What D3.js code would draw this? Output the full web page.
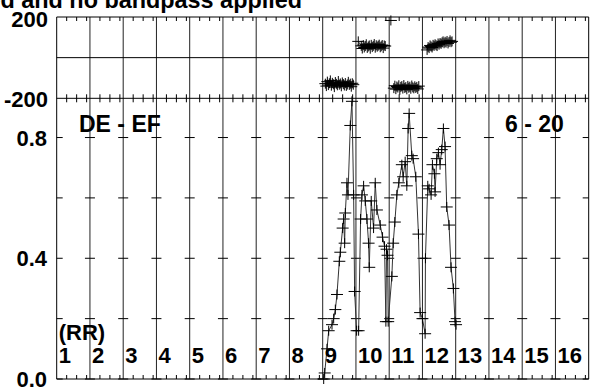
<!DOCTYPE html>
<html><head><meta charset="utf-8">
<script src="https://cdn.jsdelivr.net/npm/d3@7"></script>
<style>body{margin:0;background:#fff;overflow:hidden}text{font-family:"Liberation Sans",Arial,sans-serif;font-weight:bold;font-size:22px;fill:#000}</style>
</head><body>
<script>
// ---- data ----
const titleText = "Baseline wander removed and no bandpass applied";
const colLabels = ["1","2","3","4","5","6","7","8","9","10","11","12","13","14","15","16"];
const topTickVals = [200, -200];
const botTickLabelVals = [0.8, 0.4, 0.0];
const botGridVals = [0.0, 0.2, 0.4, 0.6, 0.8];
const leadLabel = "DE - EF";
const rangeLabel = "6 - 20";
const unitLabel = "(RR)";

// top panel clusters (time in RR units, value)
const top1T = [8.08,8.11,8.14,8.17,8.20,8.23,8.26,8.29,8.32,8.35,8.38,8.41,8.44,8.47,8.50,8.53,8.56,8.59,8.62,8.65,8.68,8.71,8.74,8.77,8.80,8.83,8.86,8.89,8.92];
const top1V = [-128,-140,-118,-135,-126,-112,-138,-124,-131,-145,-120,-129,-136,-115,-133,-127,-141,-122,-130,-137,-125,-139,-132,-119,-134,-128,-143,-126,-133];
const top2T = [9.07,9.16,9.19,9.22,9.25,9.28,9.31,9.34,9.37,9.40,9.43,9.46,9.49,9.52,9.55,9.58,9.61,9.64,9.67,9.70,9.73,9.76,9.79,9.82,9.85,9.88];
const top2V = [80,58,45,62,50,57,66,48,55,60,44,63,52,58,67,49,61,54,59,64,51,56,62,47,60,57];
const top3T = [10.05];
const top3V = [183];
const top4T = [10.14,10.17,10.20,10.23,10.26,10.29,10.32,10.35,10.38,10.41,10.44,10.47,10.50,10.53,10.56,10.59,10.62,10.65,10.68,10.71,10.74,10.77,10.80,10.83,10.86,10.89];
const top4V = [-150,-138,-155,-142,-147,-136,-158,-144,-140,-152,-135,-149,-145,-156,-139,-148,-143,-153,-137,-146,-151,-141,-149,-144,-154,-140];
const top5T = [11.14,11.17,11.20,11.23,11.26,11.29,11.32,11.35,11.38,11.41,11.44,11.47,11.50,11.53,11.56,11.59,11.62,11.65,11.68,11.71,11.74,11.77,11.80,11.83,11.86,11.89];
const top5V = [38,52,47,60,55,50,63,58,66,61,57,70,64,72,68,75,80,71,78,74,82,70,77,85,76,80];

// bottom panel series
const botT = [8.03,8.06,8.13,8.18,8.28,8.33,8.38,8.43,8.50,8.53,8.60,8.63,8.66,8.68,8.73,8.76,8.83,8.88,8.93,8.96,9.02,
  9.08,9.14,9.18,9.23,9.28,9.33,9.38,9.40,9.46,9.53,9.58,9.63,9.73,9.80,9.86,9.90,9.92,9.95,9.97,
  10.08,10.12,10.17,10.23,10.29,10.38,10.42,10.48,10.53,10.57,10.60,10.68,10.72,10.80,10.88,10.93,11.00,11.08,
  11.09,11.16,11.20,11.26,11.30,11.36,11.38,11.43,11.48,11.53,11.58,11.63,11.68,11.73,11.80,11.86,11.93,11.98,12.01];
const botV = [0.00,0.02,0.10,0.16,0.18,0.20,0.23,0.28,0.39,0.42,0.50,0.53,0.45,0.55,0.65,0.61,0.84,0.92,0.61,0.29,0.16,
  0.16,0.53,0.61,0.64,0.59,0.53,0.45,0.37,0.59,0.50,0.65,0.56,0.51,0.47,0.44,0.19,0.43,0.41,0.19,
  0.34,0.45,0.52,0.61,0.65,0.71,0.67,0.72,0.64,0.83,0.88,0.74,0.73,0.67,0.48,0.22,0.20,0.15,
  0.40,0.64,0.63,0.61,0.71,0.68,0.62,0.73,0.75,0.71,0.76,0.83,0.77,0.57,0.51,0.37,0.30,0.19,0.18];

// ---- layout ----
const W = 606, H = 389;
const L = 56.7, R = 588.7;
const topY0 = 17, topY1 = 98.3, botY1 = 379;

const svg = d3.select("body").append("svg").attr("width", W).attr("height", H);

const x = d3.scaleLinear().domain([0, 16]).range([L, R]);
const yT = d3.scaleLinear().domain([-200, 200]).range([topY1, topY0]);
const yB = d3.scaleLinear().domain([0, 0.93]).range([botY1, topY1]);

const g = svg.append("g").attr("stroke", "#000").attr("stroke-width", 1).attr("fill", "none");

// vertical grid lines
g.selectAll(".vg").data(d3.range(1, 16)).join("line")
  .attr("x1", d => x(d)).attr("x2", d => x(d))
  .attr("y1", topY0).attr("y2", botY1).attr("stroke", "#222");

// frame
g.append("line").attr("x1", L).attr("x2", L).attr("y1", topY0).attr("y2", botY1);
g.append("line").attr("x1", R).attr("x2", R).attr("y1", topY0).attr("y2", botY1);
[topY0, topY1, botY1].forEach(yy => g.append("line").attr("x1", L).attr("x2", R).attr("y1", yy).attr("y2", yy));
// top zero line
g.append("line").attr("x1", L).attr("x2", R).attr("y1", yT(0)).attr("y2", yT(0));

// minor ticks at 0.3, 0.6, 0.9 of each column
const minor = [];
d3.range(0, 16).forEach(c => [0.3, 0.6, 0.9].forEach(f => minor.push(c + f)));
g.selectAll(".mt1").data(minor).join("line")
  .attr("x1", d => x(d)).attr("x2", d => x(d)).attr("y1", topY0).attr("y2", topY0 + 4);
g.selectAll(".mt2").data(minor).join("line")
  .attr("x1", d => x(d)).attr("x2", d => x(d)).attr("y1", topY1 - 4).attr("y2", topY1 + 4);
g.selectAll(".mt3").data(minor).join("line")
  .attr("x1", d => x(d)).attr("x2", d => x(d)).attr("y1", botY1 - 4).attr("y2", botY1);

// bottom-panel horizontal grid ticks at each gridline
const crosses = [];
d3.range(1, 16).forEach(c => botGridVals.forEach(v => crosses.push([c, v])));
g.selectAll(".cr").data(crosses).join("line")
  .attr("x1", d => x(d[0]) - 5).attr("x2", d => x(d[0]) + 5)
  .attr("y1", d => yB(d[1])).attr("y2", d => yB(d[1]));
g.selectAll(".lt").data(botGridVals).join("line")
  .attr("x1", L).attr("x2", L + 6).attr("y1", d => yB(d)).attr("y2", d => yB(d));
g.selectAll(".rt").data(botGridVals).join("line")
  .attr("x1", R - 6).attr("x2", R).attr("y1", d => yB(d)).attr("y2", d => yB(d));

// data
const marker = "M-6,0H6M0,-5V5";
function drawSeries(T, V, ys) {
  const pts = T.map((t, i) => [x(t), ys(V[i])]);
  g.append("path").attr("d", d3.line()(pts)).attr("stroke", "#333");
  g.selectAll(null).data(pts).join("path")
    .attr("d", marker).attr("transform", d => `translate(${d[0]},${d[1]})`);
}
drawSeries(top1T, top1V, yT);
drawSeries(top2T, top2V, yT);
drawSeries(top3T, top3V, yT);
drawSeries(top4T, top4V, yT);
drawSeries(top5T, top5V, yT);
drawSeries(botT, botV, yB);

// texts
svg.append("text").attr("x", 302).attr("y", 8).attr("text-anchor", "end")
  .style("font-size", "23.4px").text(titleText);
topTickVals.forEach(v => svg.append("text").attr("x", 48).attr("y", (v > 0 ? yT(v) + 2 : yT(v) + 1) + 7.5)
  .attr("text-anchor", "end").text(String(v)));
botTickLabelVals.forEach(v => svg.append("text").attr("x", 47).attr("y", yB(v) + 8)
  .attr("text-anchor", "end").text(v.toFixed(1)));
svg.append("text").attr("x", 79).attr("y", 131.5).style("font-size", "23px").text(leadLabel);
svg.append("text").attr("x", 505).attr("y", 131.5).style("font-size", "23px").text(rangeLabel);
svg.append("text").attr("x", x(0) + 2).attr("y", 340).text(unitLabel);
svg.selectAll(".cl").data(colLabels).join("text")
  .attr("x", (d, i) => x(i) + 2).attr("y", 363).text(d => d);
</script>
</body></html>
